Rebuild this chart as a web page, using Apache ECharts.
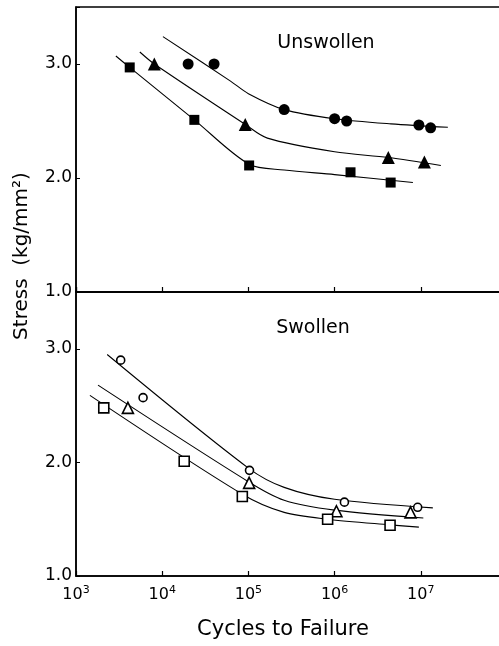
<!DOCTYPE html>
<html>
<head>
<meta charset="utf-8">
<script src="https://cdn.jsdelivr.net/npm/echarts@6/dist/echarts.min.js"></script>
<style>
  html, body { margin: 0; padding: 0; background: #fff; }
  #chart { width: 499px; height: 646px; }
</style>
</head>
<body>
<div id="chart"></div>
<script>
// panel names and axis titles
var panelNames = ['Unswollen', 'Swollen'];
var yTitle = 'Stress  (kg/mm²)';
var xTitle = 'Cycles to Failure';
var yTickValues = [1.0, 2.0, 3.0];

// unswollen - measured points (filled marks)
var uCircleX = [2.0e4, 4.0e4, 2.6e5, 1.0e6, 1.38e6, 9.5e6, 1.3e7];
var uCircleY = [3.0, 3.0, 2.6, 2.52, 2.50, 2.465, 2.44];
var uTriX = [8.1e3, 9.2e4, 4.2e6, 1.1e7];
var uTriY = [3.0, 2.47, 2.18, 2.14];
var uSqX = [4.2e3, 2.36e4, 1.02e5, 1.53e6, 4.47e6];
var uSqY = [2.97, 2.51, 2.11, 2.05, 1.96];

// unswollen - fitted curves
var uCircleCurveX = [1.02e4, 6.2e4, 1e5, 2.6e5, 1e6, 4.5e6, 2.06e7];
var uCircleCurveY = [3.24, 2.85, 2.74, 2.60, 2.52, 2.475, 2.445];
var uTriCurveX = [5.5e3, 8.1e3, 9.2e4, 1.66e5, 1e6, 4.2e6, 1.71e7];
var uTriCurveY = [3.105, 3.0, 2.47, 2.35, 2.23, 2.18, 2.11];
var uSqCurveX = [2.9e3, 4.2e3, 2.36e4, 1.02e5, 2.6e5, 1e6, 8.1e6];
var uSqCurveY = [3.07, 2.97, 2.51, 2.12, 2.07, 2.03, 1.96];

// swollen - measured points (open marks)
var sCircleX = [3.3e3, 6.0e3, 1.03e5, 1.3e6, 9.2e6];
var sCircleY = [2.90, 2.57, 1.93, 1.65, 1.605];
var sTriX = [4.0e3, 1.02e5, 1.05e6, 7.6e6];
var sTriY = [2.48, 1.82, 1.57, 1.56];
var sSqX = [2.1e3, 1.8e4, 8.5e4, 8.3e5, 4.4e6];
var sSqY = [2.48, 2.01, 1.70, 1.50, 1.447];

// swollen - fitted curves
var sCircleCurveX = [2.3e3, 1e5, 2.6e5, 1e6, 1.38e7];
var sCircleCurveY = [2.95, 1.95, 1.78, 1.675, 1.60];
var sTriCurveX = [1.8e3, 1e5, 2.6e5, 1e6, 1.07e7];
var sTriCurveY = [2.68, 1.83, 1.667, 1.58, 1.51];
var sSqCurveX = [1.45e3, 8.5e4, 2.6e5, 8.3e5, 4.4e6, 9.5e6];
var sSqCurveY = [2.59, 1.72, 1.56, 1.50, 1.45, 1.43];

var FONT = 'DejaVu Sans';

function pairs(xs, ys) {
    return xs.map(function (x, i) { return [x, ys[i]]; });
}

function curve(xs, ys, g) {
    return {
        type: 'line', xAxisIndex: g, yAxisIndex: g,
        data: pairs(xs, ys), showSymbol: false, smooth: 0.3,
        lineStyle: { color: '#000', width: 1.1 }, z: 2, silent: true
    };
}

function marks(xs, ys, g, symbol, size, open) {
    return {
        type: 'scatter', xAxisIndex: g, yAxisIndex: g,
        data: pairs(xs, ys), symbol: symbol, symbolSize: size,
        itemStyle: open
            ? { color: '#fff', borderColor: '#000', borderWidth: 1.6, opacity: 1 }
            : { color: '#000', opacity: 1 },
        z: 3, silent: true
    };
}

function xAxis(g, showLabel) {
    return {
        type: 'log', logBase: 10, gridIndex: g, min: 1e3, max: 1e8,
        axisLine: { lineStyle: { color: '#000', width: 1.5 } },
        axisTick: { inside: true, length: 5, lineStyle: { color: '#000', width: 1.2 } },
        splitLine: { show: false },
        axisLabel: {
            show: showLabel, margin: 9, color: '#000',
            formatter: function (v) {
                var e = Math.round(Math.log10(v));
                if (e > 7) return '';
                return '{b|10}{s|' + e + '}';
            },
            rich: {
                b: { fontSize: 16, fontFamily: FONT, color: '#000' },
                s: { fontSize: 11, fontFamily: FONT, color: '#000', padding: [0, 0, 9, 0] }
            }
        }
    };
}

function yAxis(g) {
    return {
        type: 'value', gridIndex: g, min: 1, max: 3.5, interval: 1,
        axisLine: { show: true, lineStyle: { color: '#000', width: 1.5 } },
        axisTick: { show: true, inside: true, length: 4, lineStyle: { color: '#000' } },
        splitLine: { show: false },
        axisLabel: {
            margin: 4, color: '#000', fontSize: 17, fontFamily: FONT,
            formatter: function (v) {
                return yTickValues.indexOf(v) >= 0 ? v.toFixed(1) : '';
            }
        }
    };
}

var chart = echarts.init(document.getElementById('chart'));
chart.setOption({
    backgroundColor: '#fff',
    animation: false,
    grid: [
        { left: 76, top: 7, width: 431, height: 285, outerBoundsMode: 'none', show: true, borderColor: '#000', borderWidth: 1.5 },
        { left: 76, top: 292, width: 431, height: 284, outerBoundsMode: 'none', show: true, borderColor: '#000', borderWidth: 1.5 }
    ],
    xAxis: [xAxis(0, false), xAxis(1, true)],
    yAxis: [yAxis(0), yAxis(1)],
    graphic: [
        { type: 'text', x: 326, y: 43, style: { text: panelNames[0], fontSize: 19, fontFamily: FONT, fill: '#000', align: 'center', verticalAlign: 'middle' } },
        { type: 'text', x: 313, y: 328, style: { text: panelNames[1], fontSize: 19, fontFamily: FONT, fill: '#000', align: 'center', verticalAlign: 'middle' } },
        { type: 'text', x: 283, y: 630, style: { text: xTitle, fontSize: 21, fontFamily: FONT, fill: '#000', align: 'center', verticalAlign: 'middle' } },
        { type: 'text', x: 22, y: 256, rotation: Math.PI / 2, style: { text: yTitle, fontSize: 20, fontFamily: FONT, fill: '#000', align: 'center', verticalAlign: 'middle' } }
    ],
    series: [
        curve(uCircleCurveX, uCircleCurveY, 0),
        curve(uTriCurveX, uTriCurveY, 0),
        curve(uSqCurveX, uSqCurveY, 0),
        marks(uCircleX, uCircleY, 0, 'circle', 11, false),
        marks(uTriX, uTriY, 0, 'triangle', 13, false),
        marks(uSqX, uSqY, 0, 'rect', 10, false),
        curve(sCircleCurveX, sCircleCurveY, 1),
        curve(sTriCurveX, sTriCurveY, 1),
        curve(sSqCurveX, sSqCurveY, 1),
        marks(sCircleX, sCircleY, 1, 'circle', 8, true),
        marks(sTriX, sTriY, 1, 'triangle', 11, true),
        marks(sSqX, sSqY, 1, 'rect', 10, true)
    ]
});
</script>
</body>
</html>
